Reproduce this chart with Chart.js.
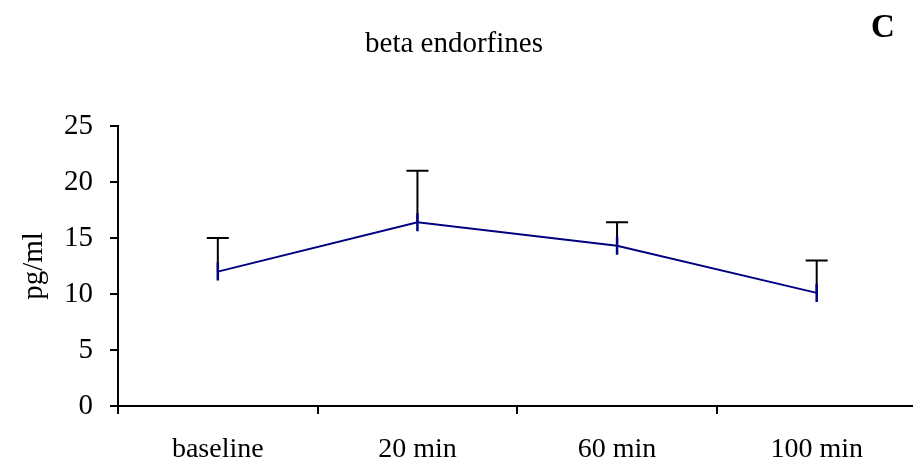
<!DOCTYPE html>
<html>
<head>
<meta charset="utf-8">
<script src="https://cdn.jsdelivr.net/npm/chart.js@4.4.1/dist/chart.umd.min.js"></script>
<style>
  html, body { margin: 0; padding: 0; background: #ffffff; overflow: hidden; }
  #wrap { width: 928px; height: 467px; }
</style>
</head>
<body>
<div id="wrap"><canvas id="c" width="928" height="467" style="width:928px;height:467px"></canvas></div>
<script>
// ---- data ----
const categories = ['baseline', '20 min', '60 min', '100 min'];
const meanValues = [12.0, 16.4, 14.3, 10.1];
const upperErrorValues = [15.0, 21.0, 16.4, 13.0];
const yTickValues = [0, 5, 10, 15, 20, 25];
const chartTitle = 'beta endorfines';
const panelLetter = 'C';
const yAxisTitle = 'pg/ml';

const SERIF = '"Liberation Serif", "Times New Roman", Times, serif';

const errorBarPlugin = {
  id: 'errorBars',
  beforeDatasetsDraw(chart) {
    const ctx = chart.ctx;
    const xs = chart.scales.x, ys = chart.scales.y;
    ctx.save();
    ctx.strokeStyle = '#000000';
    ctx.lineWidth = 2;
    ctx.lineCap = 'butt';
    categories.forEach((c, i) => {
      const x = xs.getPixelForValue(i);
      const y0 = ys.getPixelForValue(meanValues[i]);
      const y1 = ys.getPixelForValue(upperErrorValues[i]);
      ctx.beginPath();
      ctx.moveTo(x, y0);
      ctx.lineTo(x, y1);
      ctx.moveTo(x - 11, y1);
      ctx.lineTo(x + 11, y1);
      ctx.stroke();
    });
    ctx.restore();
  }
};

const headingPlugin = {
  id: 'headings',
  afterDraw(chart) {
    const ctx = chart.ctx;
    ctx.save();
    ctx.fillStyle = '#000000';
    ctx.textBaseline = 'alphabetic';
    ctx.font = '29px ' + SERIF;
    ctx.textAlign = 'center';
    ctx.fillText(chartTitle, 454, 52);
    ctx.font = 'bold 33px ' + SERIF;
    ctx.textAlign = 'left';
    ctx.fillText(panelLetter, 871, 37);
    ctx.restore();
  }
};

new Chart(document.getElementById('c'), {
  type: 'line',
  data: {
    labels: categories,
    datasets: [{
      data: meanValues,
      borderColor: '#000080',
      borderWidth: 2,
      tension: 0,
      fill: false,
      pointStyle: 'line',
      rotation: 90,
      pointRadius: 9,
      pointBorderWidth: 2.5,
      pointBorderColor: '#000080',
      pointBackgroundColor: '#000080',
      pointHoverRadius: 9
    }]
  },
  options: {
    responsive: false,
    devicePixelRatio: 1,
    animation: false,
    layout: { padding: { top: 126, right: 0, bottom: 0, left: 0 } },
    plugins: {
      legend: { display: false },
      tooltip: { enabled: false },
      title: { display: false }
    },
    scales: {
      x: {
        type: 'category',
        offset: true,
        grid: { offset: true, drawOnChartArea: false, drawTicks: true, tickLength: 8, color: '#000000', lineWidth: 2 },
        border: { display: true, color: '#000000', width: 2 },
        ticks: { color: '#000000', font: { family: SERIF, size: 28 }, padding: 19, maxRotation: 0, autoSkip: false },
        afterFit(scale) { scale.height = 61; }
      },
      y: {
        min: 0,
        max: 25,
        afterBuildTicks(scale) { scale.ticks = yTickValues.map(v => ({ value: v })); },
        grid: { drawOnChartArea: false, drawTicks: true, tickLength: 8, color: '#000000', lineWidth: 2 },
        border: { display: true, color: '#000000', width: 2 },
        ticks: { color: '#000000', font: { family: SERIF, size: 29 }, padding: 17 },
        title: { display: true, text: yAxisTitle, color: '#000000', font: { family: SERIF, size: 29 }, padding: { top: 17, bottom: 0 } },
        afterFit(scale) { scale.width = 118; }
      }
    }
  },
  plugins: [errorBarPlugin, headingPlugin]
});
</script>
</body>
</html>
